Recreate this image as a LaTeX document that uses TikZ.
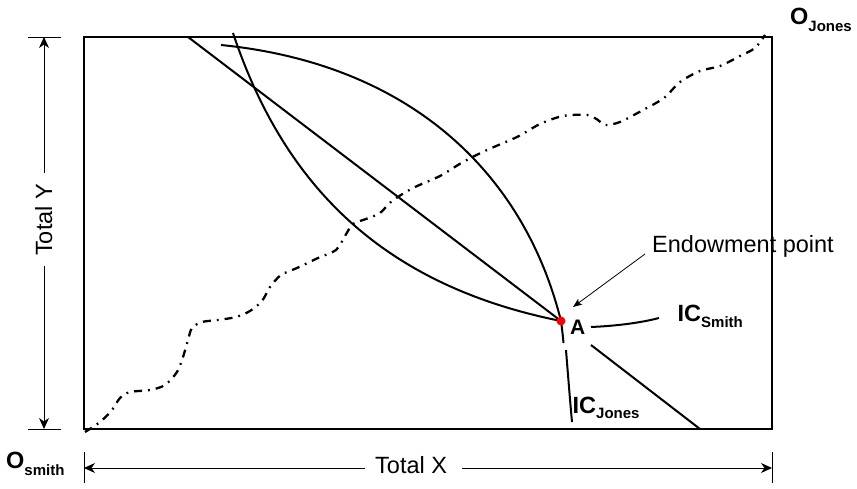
\documentclass[tikz,border=0pt]{standalone}
\usepackage{fontspec}
\setmainfont{Liberation Sans}
\usetikzlibrary{arrows.meta}
\begin{document}
\begin{tikzpicture}[x=1pt,y=-1pt,
  frame/.style={line width=2.3pt},
  curve/.style={line width=2pt},
  dimline/.style={line width=0.9pt},
  tickline/.style={line width=0.7pt},
  dimtip/.style={-{Stealth[length=11pt,width=10pt,inset=3.5pt]}},
  lbl/.style={inner sep=0pt, font=\fontsize{23.5}{28}\selectfont},
  sublbl/.style={inner sep=0pt, anchor=base west},
  dashdot/.style={line width=2.3pt, dash pattern=on 8pt off 6pt on 1.8pt off 6pt}
]
\useasboundingbox (0,0) rectangle (857,489);

% box
\node[draw, frame, minimum width=688pt, minimum height=392pt, inner sep=0pt, outer sep=0pt, anchor=north west] (box) at (84,37) {};

% Total Y dimension
\coordinate (yt1) at (28,37);  \coordinate (yt2) at (61,37);
\coordinate (yb1) at (28,429); \coordinate (yb2) at (61,429);
\draw[tickline] (yt1) -- (yt2);
\draw[tickline] (yb1) -- (yb2);
\node[lbl, rotate=90, anchor=base west] (ty) at (52,256) {Total Y};
\coordinate (tyup) at (44,173);
\coordinate (tydown) at (44,266);
\coordinate (tytop) at (44,37);
\coordinate (tybot) at (44,429);
\draw[dimline, dimtip] (tyup) -- (tytop);
\draw[dimline, dimtip] (tydown) -- (tybot);

% Total X dimension
\coordinate (xl1) at (84,452); \coordinate (xl2) at (84,483);
\coordinate (xr1) at (772,452); \coordinate (xr2) at (772,483);
\draw[tickline] (xl1) -- (xl2);
\draw[tickline] (xr1) -- (xr2);
\node[lbl, anchor=base west] (tx) at (375,473) {Total X};
\coordinate (txl) at (365,468);
\coordinate (txr) at (462,468);
\coordinate (txleft) at (84,468);
\coordinate (txright) at (772,468);
\draw[dimline, dimtip] (txl) -- (txleft);
\draw[dimline, dimtip] (txr) -- (txright);

% contract curve (dash-dot)
\draw[dashdot] plot[smooth, tension=0.5] coordinates {
 (85,432) (100,422) (112,410) (120,398) (130,392) (150,390) (165,385)
 (177,372) (183,357) (188,340) (192,328) (202,322) (218,320) (236,317)
 (250,311) (262,301) (270,287) (281,275) (297,268) (318,258) (336,250)
 (345,236) (353,224) (366,219) (380,213) (392,201) (413,188) (440,176)
 (463,162) (487,150) (517,137) (540,124) (563,116) (587,115) (598,120)
 (605,125) (620,122) (643,110) (664,98) (680,82) (700,71) (720,66)
 (740,56) (755,48) (765,35)};

% endowment point
\coordinate (A) at (561,321);

% budget line
\coordinate (btop) at (188,37);
\coordinate (blow1) at (591,345);
\coordinate (blow2) at (700,429);
\draw[curve] (btop) -- (A);
\draw[curve] (blow1) -- (blow2);

% IC Jones
\coordinate (icjtop) at (221,45);
\coordinate (icjmid) at (563.5,343);
\coordinate (icjlow1) at (566,350);
\coordinate (icjlow2) at (572,422);
\draw[curve] (icjtop) .. controls (406,63.5) and (523,169) .. (A)
  .. controls (562.2,330) and (563,337) .. (icjmid);
\draw[curve] (icjlow1) .. controls (568,375) and (570,400) .. (icjlow2);

% IC Smith
\coordinate (icstop) at (233,33);
\coordinate (icsr1) at (591,327);
\coordinate (icsr2) at (659,318);
\draw[curve] (icstop) .. controls (285,189) and (386,286) .. (A);
\draw[curve] (icsr1) .. controls (615,326) and (640,323) .. (icsr2);

% red endowment dot
\fill[red] (A) circle (4.5pt);

% labels
\node[sublbl, font=\fontsize{21}{24}\selectfont\bfseries] (Alab) at (570,334) {A};
\node[lbl, anchor=base west] (endo) at (652,253) {Endowment point};
\coordinate (endotail) at (645,254);
\coordinate (endotip) at (573,307);
\draw[line width=0.8pt, -{Stealth[length=9pt,width=7pt,inset=2pt]}] (endotail) -- (endotip);

\node[sublbl] (ics) at (677.5,321) {\fontsize{23.5}{28}\selectfont\bfseries IC\fontsize{15}{18}\selectfont\raisebox{-6pt}{Smith}};
\node[sublbl] (icj) at (572.5,413) {\fontsize{23.5}{28}\selectfont\bfseries IC\fontsize{15}{18}\selectfont\raisebox{-5pt}{Jones}};
\node[sublbl] (os) at (6,468) {\fontsize{23.5}{28}\selectfont\bfseries O\fontsize{15}{18}\selectfont\raisebox{-7pt}{smith}};
\node[sublbl] (oj) at (790,25) {\fontsize{23.5}{28}\selectfont\bfseries O\fontsize{15}{18}\selectfont\raisebox{-7pt}{Jones}};
\end{tikzpicture}
\end{document}
